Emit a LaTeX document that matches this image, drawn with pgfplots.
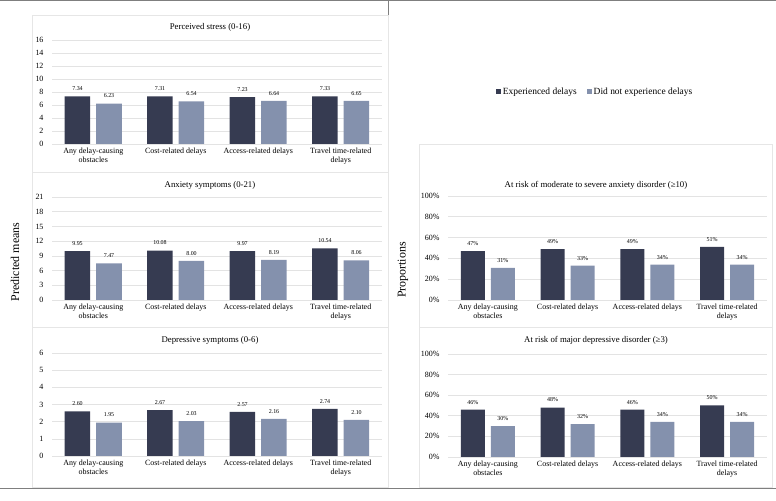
\documentclass[border=0pt]{standalone}
\usepackage{pgfplots}
\pgfplotsset{compat=1.18}
\usepackage{fontspec}
\setmainfont{Liberation Serif}
\definecolor{dk}{HTML}{363B51}
\definecolor{lt}{HTML}{8491AD}
\definecolor{gridc}{HTML}{E3E3E3}
\definecolor{framec}{HTML}{7F7F7F}
\definecolor{boxc}{HTML}{E6E6E6}
\pgfplotsset{
  /pgf/number format/assume math mode=true,
  mybar/.style={
    scale only axis, anchor=south west,
    ybar=6bp, bar width=25.5bp,
    xmin=-0.5, xmax=3.5, xtick={0,1,2,3},
    xticklabels={{Any delay-causing\\obstacles},{Cost-related delays},{Access-related delays},{Travel time-related\\delays}},
    xticklabel style={align=center, font=\fontsize{8}{9.5}\selectfont},
    yticklabel style={font=\fontsize{8}{9}\selectfont, xshift=-5bp},
    axis line style={draw=none}, major tick length=0,
    ymajorgrids, grid style={draw=gridc, line width=0.6bp},
    ymin=0,
    nodes near coords,
    nodes near coords style={font=\fontsize{6}{7}\selectfont, text=black, yshift=2bp},
  },
  dec/.style={nodes near coords={\pgfmathprintnumber[fixed,fixed zerofill,precision=2]{\pgfplotspointmeta}}},
  pct/.style={bar width=24bp, ybar=6bp, ymax=100, ytick={0,20,40,60,80,100},
    yticklabel={\pgfmathprintnumber{\tick}\%},
    nodes near coords={\pgfmathprintnumber[fixed,precision=0]{\pgfplotspointmeta}\%}},
}
\begin{document}
\begin{tikzpicture}
\useasboundingbox (0,0) rectangle (776bp,501bp);
% frames
\draw[framec, line width=1bp] (0,500bp) -- (776bp,500bp);
\draw[framec, line width=1bp] (0,12bp) -- (776bp,12bp);
\draw[framec, line width=1bp] (388bp,12bp) -- (388bp,500bp);
\draw[boxc, line width=0.6bp] (32bp,486bp) rectangle (388bp,329bp);
\draw[boxc, line width=0.6bp] (32bp,329bp) rectangle (388bp,174bp);
\draw[boxc, line width=0.6bp] (32bp,174bp) rectangle (388bp,14bp);
\draw[boxc, line width=0.6bp] (419bp,357bp) rectangle (772bp,174bp);
\draw[boxc, line width=0.6bp] (419bp,174bp) rectangle (772bp,14bp);
% side labels
\node[rotate=90, font=\fontsize{12}{14}\selectfont] at (15bp,239bp) {Predicted means};
\node[rotate=90, font=\fontsize{12}{14}\selectfont] at (403bp,231bp) {Proportions};
% titles
\node[font=\fontsize{8.8}{10}\selectfont] at (210bp,474bp) {Perceived stress (0-16)};
\node[font=\fontsize{8.8}{10}\selectfont] at (210bp,316bp) {Anxiety symptoms (0-21)};
\node[font=\fontsize{8.8}{10}\selectfont] at (210bp,161bp) {Depressive symptoms (0-6)};
\node[font=\fontsize{8.8}{10}\selectfont] at (596bp,316bp) {At risk of moderate to severe anxiety disorder (≥10)};
\node[font=\fontsize{8.8}{10}\selectfont] at (596bp,161bp) {At risk of major depressive disorder (≥3)};

% Perceived stress
\begin{axis}[mybar, dec, at={(52bp,357bp)}, width=330bp, height=104bp,
  ymax=16, ytick={0,2,...,16}]
\addplot[fill=dk, draw=none] coordinates {(0,7.34) (1,7.31) (2,7.23) (3,7.33)};
\addplot[fill=lt, draw=none] coordinates {(0,6.23) (1,6.54) (2,6.64) (3,6.65)};
\end{axis}
% Anxiety
\begin{axis}[mybar, dec, at={(52bp,201bp)}, width=330bp, height=103bp,
  ymax=21, ytick={0,3,...,21}]
\addplot[fill=dk, draw=none] coordinates {(0,9.95) (1,10.08) (2,9.97) (3,10.54)};
\addplot[fill=lt, draw=none] coordinates {(0,7.47) (1,8.00) (2,8.19) (3,8.06)};
\end{axis}
% Depressive
\begin{axis}[mybar, dec, at={(52bp,45bp)}, width=330bp, height=103bp,
  ymax=6, ytick={0,1,...,6}]
\addplot[fill=dk, draw=none] coordinates {(0,2.60) (1,2.67) (2,2.57) (3,2.74)};
\addplot[fill=lt, draw=none] coordinates {(0,1.95) (1,2.03) (2,2.16) (3,2.10)};
\end{axis}
% Anxiety risk
\begin{axis}[mybar, pct, at={(448bp,201bp)}, width=319bp, height=104bp,
  legend style={at={(0.461,2.0)}, anchor=center, draw=none, fill=none,
    font=\fontsize{9.5}{11}\selectfont, legend columns=2,
    /tikz/every even column/.append style={column sep=8bp}},
  legend image code/.code={\fill[#1] (0bp,-2.5bp) rectangle (5bp,2.5bp);}]
\addplot[fill=dk, draw=none] coordinates {(0,47) (1,49) (2,49) (3,51)};
\addplot[fill=lt, draw=none] coordinates {(0,31) (1,33) (2,34) (3,34)};
\addlegendentry{Experienced delays}
\addlegendentry{Did not experience delays}
\end{axis}
% Depressive risk
\begin{axis}[mybar, pct, at={(448bp,44bp)}, width=319bp, height=103bp]
\addplot[fill=dk, draw=none] coordinates {(0,46) (1,48) (2,46) (3,50)};
\addplot[fill=lt, draw=none] coordinates {(0,30) (1,32) (2,34) (3,34)};
\end{axis}
\end{tikzpicture}
\end{document}
